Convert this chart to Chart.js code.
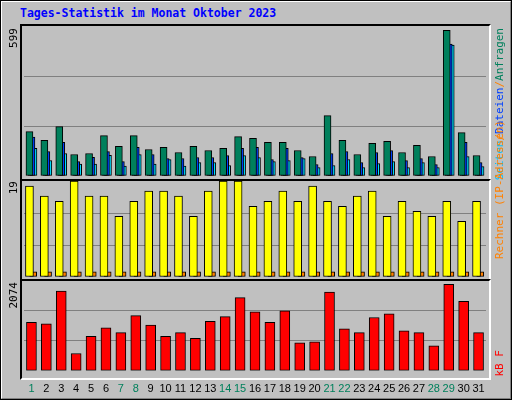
<!DOCTYPE html>
<html><head><meta charset="utf-8">
<script src="https://cdn.jsdelivr.net/npm/chart.js@4"></script>
<style>
body{margin:0;background:#fff}
#wrap{position:absolute;left:0;top:0;width:508px;height:396px;background:#c0c0c0;border-top:2px solid #fff;border-left:2px solid #fff;border-right:2px solid #808080;border-bottom:2px solid #808080;outline:1px solid #000;outline-offset:-1px}
.c{position:absolute}
.frame{position:absolute;border:2px solid #000;border-right-color:#fff;border-bottom-color:#fff;box-sizing:border-box;pointer-events:none}
.v{position:absolute;writing-mode:vertical-rl;transform:rotate(180deg);font-family:"DejaVu Sans Mono",monospace;font-size:11px;line-height:12px;white-space:nowrap}
#title{position:absolute;left:20px;top:6px;font:bold 11.5px "DejaVu Sans Mono",monospace;color:#0000ff}
</style></head><body>
<div id="wrap"></div>
<div id="title">Tages-Statistik im Monat Oktober 2023</div>
<canvas id="c1" class="c" style="left:20px;top:25px" width="470" height="155"></canvas>
<canvas id="c2" class="c" style="left:20px;top:180px" width="470" height="100"></canvas>
<canvas id="c3" class="c" style="left:20px;top:280px" width="470" height="120"></canvas>
<div class="frame" style="left:20px;top:24px;width:471px;height:157px"></div>
<div class="frame" style="left:20px;top:179px;width:471px;height:102px"></div>
<div class="frame" style="left:20px;top:279px;width:471px;height:101px"></div>
<div class="v" style="left:8px;top:28px">599</div>
<div class="v" style="left:8px;top:181px">19</div>
<div class="v" style="left:8px;top:282px">2074</div>
<div class="v" style="left:494px;top:28px"><span style="color:#00c0ff">Seiten</span><span style="color:#ff8000">/</span><span style="color:#0040ff">Dateien</span><span style="color:#ff8000">/</span><span style="color:#00805c">Anfragen</span></div>
<div class="v" style="left:494px;top:120px;color:#ff8000">Rechner (IP-Adressen)</div>
<div class="v" style="left:494px;top:350px;color:#ff0000">kB F</div>
<script>
const days=["1","2","3","4","5","6","7","8","9","10","11","12","13","14","15","16","17","18","19","20","21","22","23","24","25","26","27","28","29","30","31"];
const weekend=[1,7,8,14,15,21,22,28,29];
const hits=[177,142,197,86,90,161,118,161,106,114,94,118,102,110,157,150,134,134,102,78,241,142,86,130,138,94,122,78,582,173,82];
const files=[155,98,134,58,75,98,58,114,86,70,70,74,74,82,110,114,66,110,74,46,90,98,54,94,102,62,70,46,527,134,54];
const pages=[110,62,90,48,48,83,40,86,48,66,40,54,54,42,82,74,58,62,70,34,42,66,34,50,58,34,54,34,523,78,38];
const visits=[18,16,15,19,16,16,12,15,17,17,16,12,17,19,19,14,15,17,15,18,15,14,16,17,12,15,13,12,15,11,15];
const sites=[1,1,1,1,1,1,1,1,1,1,1,1,1,1,1,1,1,1,1,1,1,1,1,1,1,1,1,1,1,1,1];
const kbytes=[1121,1085,1842,400,794,990,881,1274,1056,794,881,750,1143,1252,1689,1361,1121,1383,648,670,1820,968,881,1230,1318,925,881,575,1995,1602,881];
const maxes=[599,19,2074];

function ds(data,color,off,w){return {data:data.map((v,i)=>({x:i+1+off,y:v})),backgroundColor:color,borderColor:'#000',borderWidth:1,borderSkipped:false,barThickness:w,grouped:false};}
function yScale(max){return {min:0,max:max,
  afterBuildTicks:s=>{s.ticks=[0,max/3,2*max/3,max].map(v=>({value:v}));},
  afterFit:s=>{s.width=0;},
  ticks:{display:false},border:{display:false},
  grid:{drawTicks:false,color:c=>(c.index==1||c.index==2)?'#808080':'rgba(0,0,0,0)',lineWidth:1}};}
function make(id,datasets,max,pad,showX){
  new Chart(document.getElementById(id),{type:'bar',data:{datasets},
    options:{responsive:false,animation:false,events:[],
      plugins:{legend:{display:false},tooltip:{enabled:false}},
      layout:{padding:pad},
      scales:{x:{type:'linear',min:0.5,max:31.5,offset:false,display:showX,grid:{display:false},border:{display:false},
        afterBuildTicks:s=>{s.ticks=days.map((d,i)=>({value:i+1}));},
        ticks:{autoSkip:false,maxRotation:0,padding:4,font:{family:'Liberation Sans',size:11},
          callback:(v)=>days[v-1],
          color:c=>weekend.includes(c.index+1)?'#00805c':'#000'}},
        y:yScale(max)}}});
}
const u=1/14.9;
make('c1',[ds(hits,'#00805c',-2*u,7),ds(files,'#0040ff',0,7),ds(pages,'#00e0ff',2*u,7)],maxes[0],{left:4,right:4,top:1,bottom:4},false);
make('c2',[ds(visits,'#ffff00',-2*u,8),ds(sites,'#ff8000',1.7*u,7)],maxes[1],{left:4,right:4,top:1,bottom:3},false);
make('c3',[ds(kbytes,'#ff0000',0,10)],maxes[2],{left:4,right:4,top:1,bottom:0},true);
</script>
</body></html>
